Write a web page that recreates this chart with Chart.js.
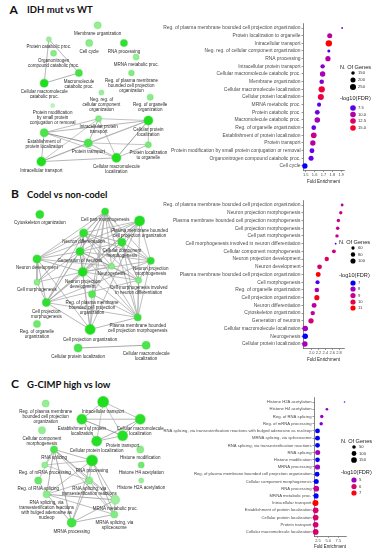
<!DOCTYPE html>
<html><head><meta charset="utf-8">
<script src="https://cdn.jsdelivr.net/npm/chart.js"></script>
<style>
body{margin:0;width:377px;height:550px;background:#fff;position:relative;overflow:hidden}
canvas{position:absolute}
.t{position:absolute;font-family:Lato,"Open Sans",sans-serif;font-weight:bold;color:#111;white-space:nowrap;line-height:1}
</style></head><body>
<div class="t" style="left:9.5px;top:3.5px;font-size:12px">A</div>
<div class="t" style="left:27px;top:5px;font-size:9.5px">IDH mut vs WT</div>
<div class="t" style="left:11px;top:188px;font-size:12px">B</div>
<div class="t" style="left:27px;top:189.5px;font-size:9.5px">Codel vs non-codel</div>
<div class="t" style="left:11px;top:378px;font-size:12px">C</div>
<div class="t" style="left:27px;top:379.5px;font-size:9.5px">G-CIMP high vs low</div>
<canvas id="netA"></canvas><canvas id="dotA"></canvas>
<canvas id="netB"></canvas><canvas id="dotB"></canvas>
<canvas id="netC"></canvas><canvas id="dotC"></canvas>
<script>
// ================= DATA: dot plots =================
const labelsA = ["Reg. of plasma membrane bounded cell projection organization","Protein localization to organelle","Intracellular transport","Neg. reg. of cellular component organization","RNA processing","Intracellular protein transport","Cellular macromolecule catabolic proc.","Membrane organization","Cellular macromolecule localization","Cellular protein localization","MRNA metabolic proc.","Protein catabolic proc.","Macromolecule catabolic proc.","Reg. of organelle organization","Establishment of protein localization","Protein transport","Protein modification by small protein conjugation or removal","Organonitrogen compound catabolic proc.","Cell cycle"];
const foldA  = [1.91,1.77,1.76,1.76,1.75,1.69,1.69,1.68,1.68,1.67,1.65,1.63,1.63,1.59,1.59,1.58,1.57,1.56,1.49];
const fdrA   = [8.2,10.6,16.0,7.2,10.3,8.6,9.6,8.4,14.5,14.0,7.4,7.8,9.4,7.6,11.2,10.2,7.8,7.6,6.8];
const genesA = [130,200,270,140,205,175,215,180,265,250,165,190,225,185,230,215,195,200,210];
const xTicksA = [1.5,1.6,1.7,1.8,1.9];
const sizeLegA = ["150","200","250"];
const fdrLegA = ["7.5","10.0","12.5","15.0"];

const labelsB = ["Reg. of plasma membrane bounded cell projection organization","Neuron projection morphogenesis","Plasma membrane bounded cell projection morphogenesis","Cell projection morphogenesis","Cell part morphogenesis","Cell morphogenesis involved in neuron differentiation","Cellular component morphogenesis","Neuron projection development","Neuron development","Plasma membrane bounded cell projection organization","Cell morphogenesis","Reg. of organelle organization","Cell projection organization","Neuron differentiation","Cytoskeleton organization","Generation of neurons","Cellular macromolecule localization","Neurogenesis","Cellular protein localization"];
const foldB  = [2.89,2.85,2.78,2.76,2.74,2.70,2.65,2.44,2.23,2.19,2.17,2.15,2.15,2.07,2.03,1.98,1.81,1.81,1.80];
const fdrB   = [8.8,9.0,9.0,9.0,9.0,7.1,9.1,9.8,9.3,11.0,7.2,8.3,10.8,8.5,8.8,9.3,8.2,7.0,8.2];
const genesB = [55,60,62,64,62,50,70,80,90,95,75,85,100,95,80,105,115,112,110];
const xTicksB = [2.0,2.2,2.4,2.6,2.8];
const sizeLegB = ["60","80","100"];
const fdrLegB = ["7","8","9","10","11"];

const labelsC = ["Histone H2A acetylation","Histone H4 acetylation","Reg. of RNA splicing","Reg. of mRNA processing","RNA splicing, via transesterification reactions with bulged adenosine as nucleop","MRNA splicing, via spliceosome","RNA splicing, via transesterification reactions","RNA splicing","Histone modification","MRNA processing","Reg. of plasma membrane bounded cell projection organization","Cellular component morphogenesis","RNA processing","MRNA metabolic proc.","Intracellular transport","Establishment of protein localization","Cellular protein localization","Protein transport","Cellular macromolecule localization"];
const foldC  = [9.0,4.7,3.45,3.3,2.4,2.4,2.4,2.45,2.4,2.4,2.3,2.1,2.1,2.05,1.9,1.95,1.95,1.95,1.95];
const fdrC   = [4.6,5.0,5.0,4.7,4.3,4.3,4.3,5.1,4.3,5.0,4.3,4.3,5.6,4.3,7.1,6.1,6.1,6.0,6.0];
const genesC = [20,30,45,45,100,105,100,110,95,120,100,110,150,115,170,150,150,145,155];
const xTicksC = [2.5,5.0,7.5];
const sizeLegC = ["50","100","150"];
const fdrLegC = ["5","6","7"];

// ================= DATA: enrichment networks (layout coordinates) =================
const netLabelsA = ["Membrane organization","Protein catabolic proc.","Cell cycle","RNA processing","Organonitrogen\ncompound catabolic proc.","MRNA metabolic proc.","Macromolecule\ncatabolic proc.","Reg. of plasma membrane\nbounded cell projection\norganization","Cellular macromolecule\ncatabolic proc.","Neg. reg. of\ncellular component\norganization","Reg. of organelle\norganization","Protein modification\nby small protein\nconjugation or removal","Intracellular protein\ntransport","Cellular protein\nlocalization","Establishment of\nprotein localization","Protein transport","Protein localization\nto organelle","Intracellular transport","Cellular macromolecule\nlocalization"];
const netXA = [98,46,89,126,51,139,78,134,41,102,154,50,99,152,41,88,152,38,118];
const netYA = [20,35,39,39,50,54,71,71,82,92,97,106,120,122,135,146,148,166,162];
const netSizeA = [3.5,2.5,3.5,3.5,3,3,3.5,2.8,4,2.5,3,2,3,4.5,4,4,3,4.5,4.5];
const netSigA = [0.35,0.3,0.4,0.9,0.4,0.35,0.8,0.45,1,0.3,0.4,0.1,0.45,1,0.75,0.75,0.5,1,1];
const netEdgesA = [[1,6,0.5],[1,8,0.5],[6,8,0.6],[14,13,0.5],[14,12,0.4],[14,15,1],[14,17,0.4],[14,18,0.35],[12,13,0.35],[12,15,0.5],[12,18,0.35],[12,17,0.3],[13,18,0.9],[13,15,0.4],[15,17,0.5],[15,18,0.5],[17,18,0.5],[16,18,0.4],[17,13,0.3],[16,15,0.3],[16,13,0.3]];

const netLabelsB = ["Cytoskeleton organization","Cell part morphogenesis","Plasma membrane bounded\ncell projection organization","Neuron differentiation","Cellular component\nmorphogenesis","Generation of neurons","Neuron development","Neuron projection\nmorphogenesis","Neurogenesis","Neuron projection\ndevelopment","Cell morphogenesis","Cell morphogenesis involved\nin neuron differentiation","Reg. of plasma membrane\nbounded cell projection\norganization","Cell projection\nmorphogenesis","Plasma membrane bounded\ncell projection morphogenesis","Reg. of organelle\norganization","Cell projection organization","Cellular macromolecule\nlocalization","Cellular protein localization"];
const netXB = [36,106,143,83,124,79,33,155,113,82,33,142,92,43,141,33,90,150,77];
const netYB = [209,206,216,229,239,249,257,259,265,271,282,280,295,304,320,327,333,350,353];
const netSizeB = [4,3.5,5,4,4,4,4,3.5,3,4.5,3,3,3.5,4,3.5,3.5,5,4,4];
const netSigB = [0.9,0.9,1,0.9,0.9,0.95,0.9,0.9,0.4,1,0.4,0.45,0.7,0.9,0.85,0.55,1,0.75,0.75];
const netEdgesB = [[1,3,0.4],[1,4,0.4],[1,5,0.4],[1,6,0.4],[1,7,0.4],[1,8,0.4],[1,9,0.4],[1,10,0.4],[1,11,0.4],[1,12,0.4],[1,13,0.4],[1,14,0.4],[1,16,0.4],
[2,3,0.4],[2,4,0.4],[2,5,0.4],[2,6,0.4],[2,7,0.4],[2,9,0.4],[2,12,0.4],[2,13,0.4],[2,14,0.4],[2,16,0.4],
[3,4,0.5],[3,5,0.6],[3,6,0.4],[3,7,0.4],[3,8,0.4],[3,9,0.5],[3,10,0.4],[3,11,0.4],[3,13,0.4],[3,14,0.4],
[4,5,0.4],[4,7,0.5],[4,9,0.4],[4,11,0.4],[4,13,0.4],[4,14,0.4],
[5,6,0.5],[5,7,0.4],[5,8,0.6],[5,9,0.6],[5,10,0.4],[5,11,0.4],[5,13,0.4],[5,14,0.4],[5,16,0.4],
[6,9,0.5],[6,10,0.4],[6,13,0.5],[6,16,0.4],[6,8,0.4],
[7,9,0.4],[7,11,0.4],[7,13,0.4],[7,14,0.4],
[8,9,0.4],[8,11,0.4],
[9,10,0.4],[9,11,0.4],[9,13,0.5],[9,14,0.4],[9,16,0.4],
[10,13,0.4],[11,14,0.4],[11,13,0.4],[12,16,0.4],[12,14,0.4],[13,14,0.4],[13,16,0.5],[14,16,0.5],[17,18,0.7]];

const netLabelsC = ["Reg. of plasma membrane\nbounded cell projection\norganization","Intracellular transport","Establishment of protein\nlocalization","Cellular macromolecule\nlocalization","Cellular component\nmorphogenesis","Protein transport","Cellular protein localization","RNA splicing","Histone modification","RNA processing","Reg. of mRNA processing","Histone H4 acetylation","Reg. of RNA splicing","RNA splicing, via\ntransesterification reactions","Histone H2A acetylation","RNA splicing, via\ntransesterification reactions\nwith bulged adenosine as\nnucleop","MRNA metabolic proc.","MRNA splicing, via\nspliceosome","MRNA processing"];
const netXC = [42,104,81,144,38,125,97,51,144,92,41,145,34,89,145,43,117,116,70];
const netYC = [398,396,415,415,427,433,439,448,448,460,465,465,482,482,482,497,503,519,528];
const netSizeC = [3.5,5.5,5,5,3.5,5,5,3.5,3.5,5.5,3,3,3.5,3.5,2.5,3.5,4.5,3.5,4.5];
const netSigC = [0.35,1,0.95,0.95,0.35,0.95,0.95,0.75,0.4,1,0.35,0.55,0.6,0.4,0.3,0.4,0.3,0.45,0.8];
const netEdgesC = [[1,2,0.4],[1,3,0.4],[1,5,0.3],[1,6,0.3],[2,3,0.5],[2,5,0.8],[2,6,0.5],[3,6,0.6],[3,5,0.5],[5,6,0.5],
[7,9,0.5],[7,13,0.4],[7,15,0.6],[7,16,0.5],[7,17,0.4],[7,18,0.7],[7,12,0.3],[7,10,0.3],[9,13,0.4],[9,15,0.4],[9,16,0.5],[9,17,0.5],[9,18,0.4],[13,15,0.4],[13,16,0.4],[13,17,0.4],[13,18,0.5],[15,16,0.7],[15,17,0.4],[15,18,0.6],[16,17,0.4],[16,18,0.5],[17,18,0.5],[10,13,0.3],[12,15,0.3],[10,9,0.3]];

// ================= helpers =================
const F = '"Liberation Sans", Arial, Helvetica, sans-serif';
function lin(c){c/=255;return c<=0.04045?c/12.92:Math.pow((c+0.055)/1.055,2.4);}
function gam(c){c=c<=0.0031308?12.92*c:1.055*Math.pow(Math.max(c,0),1/2.4)-0.055;return Math.round(Math.min(1,Math.max(0,c))*255);}
function rgb2lab(rgb){const [r,g,b]=rgb.map(lin);
 const X=(0.4124*r+0.3576*g+0.1805*b)/0.95047, Y=0.2126*r+0.7152*g+0.0722*b, Z=(0.0193*r+0.1192*g+0.9505*b)/1.08883;
 const f=t=>t>0.008856?Math.cbrt(t):7.787*t+16/116; const fx=f(X),fy=f(Y),fz=f(Z);
 return [116*fy-16,500*(fx-fy),200*(fy-fz)];}
function lab2rgb([L,a,bb]){const fy=(L+16)/116,fx=fy+a/500,fz=fy-bb/200;
 const fi=t=>t*t*t>0.008856?t*t*t:(t-16/116)/7.787;
 const X=fi(fx)*0.95047,Y=fi(fy),Z=fi(fz)*1.08883;
 return [3.2406*X-1.5372*Y-0.4986*Z,-0.9689*X+1.8758*Y+0.0415*Z,0.0557*X-0.2040*Y+1.0570*Z].map(gam);}
const LAB_LO=rgb2lab([0,0,255]), LAB_HI=rgb2lab([255,0,0]);
function fdrColor(v,lo,hi){let t=(v-lo)/(hi-lo);t=Math.max(0,Math.min(1,t));
 const [r,g,b]=lab2rgb(LAB_LO.map((c,i)=>c+(LAB_HI[i]-c)*t));return `rgb(${r},${g},${b})`;}
function greenColor(s){const p=[214,245,214],q=[30,222,30];return `rgb(${p.map((c,i)=>Math.round(c+(q[i]-c)*s)).join(',')})`;}

const LEG = {}, NET = {};

const legendPlugin = {id:'dotLegend', afterDraw(chart){
  const L = LEG[chart.canvas.id]; if(!L) return;
  const c = chart.ctx, ox=L.ox, oy=L.oy;
  c.save(); c.textBaseline='middle'; c.textAlign='left';
  c.fillStyle='#1a1a1a'; c.font=`${L.titleFs}px ${F}`;
  c.fillText('N. Of Genes', L.titleX-ox, L.sizeTitleY-oy);
  L.sizeLab.forEach((s,i)=>{
    c.fillStyle='#000'; c.beginPath(); c.arc(L.dotX-ox, L.sizeYs[i]-oy, L.rad(parseFloat(s)), 0, Math.PI*2); c.fill();
    c.fillStyle='#333'; c.font=`${L.itemFs}px ${F}`; c.fillText(s, L.textX-ox, L.sizeYs[i]-oy);
  });
  c.fillStyle='#1a1a1a'; c.font=`${L.titleFs}px ${F}`;
  c.fillText('-log10(FDR)', L.titleX-ox, L.colTitleY-oy);
  L.colLab.forEach((s,i)=>{
    c.fillStyle=L.col(parseFloat(s)); c.beginPath(); c.arc(L.dotX-ox, L.colYs[i]-oy, L.colR, 0, Math.PI*2); c.fill();
    c.fillStyle='#333'; c.font=`${L.itemFs}px ${F}`; c.fillText(s, L.textX-ox, L.colYs[i]-oy);
  });
  c.restore();
}};

const labelPlugin = {id:'netLabels', afterDatasetsDraw(chart){
  const N = NET[chart.canvas.id]; if(!N) return;
  const c = chart.ctx, xs=chart.scales.x, ys=chart.scales.y;
  c.save(); c.textAlign='center'; c.textBaseline='top'; c.fillStyle='#2b2b2b'; c.font=`${N.fs}px ${F}`;
  N.labels.forEach((lab,i)=>{
    const px=xs.getPixelForValue(N.x[i]), py=ys.getPixelForValue(N.y[i]);
    lab.split('\n').forEach((ln,k)=>c.fillText(ln, px, py+N.r[i]+2.6+k*5));
  });
  c.restore();
}};

function dotChart(id, geo, labels, fold, fdr, genes, xTicks, leg){
  const n = labels.length;
  const fLo=Math.min(...fdr), fHi=Math.max(...fdr);
  const gLo=Math.min(...genes), gHi=Math.max(...genes);
  const rad = g => geo.rMin + (geo.rMax-geo.rMin)*Math.sqrt(Math.max(0,Math.min(1,(g-gLo)/(gHi-gLo))));
  const xLo=Math.min(...fold), xHi=Math.max(...fold), pad=(xHi-xLo)*0.05;
  const cv=document.getElementById(id);
  cv.width=geo.w; cv.height=geo.h; cv.style.left=geo.left+'px'; cv.style.top=geo.top+'px';
  LEG[id] = Object.assign({ox:geo.left, oy:geo.top, rad, col:v=>fdrColor(v,fLo,fHi)}, leg);
  new Chart(cv,{type:'bubble',
    data:{datasets:[{data:fold.map((v,i)=>({x:v,y:i,r:rad(genes[i])})),
      backgroundColor:fdr.map(v=>fdrColor(v,fLo,fHi)), borderWidth:0, clip:false}]},
    options:{responsive:false, animation:false, devicePixelRatio:1, events:[],
      layout:{padding:{left:0,right:geo.padR,top:geo.padT,bottom:0}},
      plugins:{legend:{display:false}, tooltip:{enabled:false}},
      scales:{
        x:{type:'linear', min:xLo-pad, max:xHi+pad,
          afterBuildTicks:s=>{s.ticks=xTicks.map(v=>({value:v}));},
          afterFit:s=>{s.height=geo.xH;},
          grid:{display:true, drawOnChartArea:false, drawTicks:true, tickLength:1.5, color:'#333', lineWidth:0.5},
          border:{display:true, color:'#333', width:0.6},
          ticks:{font:{family:F,size:4},color:'#4d4d4d',padding:0.5,maxRotation:0,minRotation:0,autoSkip:false,callback:v=>Number(v).toFixed(1)},
          title:{display:true,text:'Fold Enrichment',font:{family:F,size:4.5},color:'#1a1a1a',padding:{top:0,bottom:geo.titlePadB}}},
        y:{type:'linear', reverse:true, min:-0.6, max:n-0.4,
          afterBuildTicks:s=>{s.ticks=labels.map((l,i)=>({value:i}));},
          afterFit:s=>{s.width=geo.yW;},
          grid:{display:true, drawOnChartArea:false, drawTicks:true, tickLength:1.5, color:'#333', lineWidth:0.5},
          border:{display:true, color:'#333', width:0.6},
          ticks:{font:{family:F,size:geo.labFs},color:'#4d4d4d',padding:1,autoSkip:false,callback:v=>labels[Math.round(v)]}}
      }},
    plugins:[legendPlugin]});
}

function netChart(id, geo, labels, xs, ys, sizes, sig, edges){
  const cv=document.getElementById(id);
  cv.width=geo.w; cv.height=geo.h; cv.style.left=geo.left+'px'; cv.style.top=geo.top+'px';
  NET[id] = {labels, x:xs, y:ys, r:sizes, fs:4.5};
  const nodes = {data:xs.map((x,i)=>({x, y:ys[i]})), pointRadius:sizes, pointBackgroundColor:sig.map(greenColor),
    pointBorderColor:sig.map(s=>`rgba(60,215,60,${0.15+0.3*s})`), pointBorderWidth:1.2, showLine:false};
  const edgeSets = edges.map(([a,b,w])=>{const g=Math.round(205-95*w);
    return {data:[{x:xs[a],y:ys[a]},{x:xs[b],y:ys[b]}], showLine:true, pointRadius:0, borderWidth:0.75,
      borderColor:`rgb(${g},${g},${g})`, fill:false};});
  new Chart(cv,{type:'scatter', data:{datasets:[nodes, ...edgeSets]},
    options:{responsive:false, animation:false, devicePixelRatio:1, events:[],
      layout:{padding:0},
      plugins:{legend:{display:false}, tooltip:{enabled:false}},
      scales:{x:{type:'linear',display:false,min:0,max:geo.w},
              y:{type:'linear',display:false,min:geo.top,max:geo.top+geo.h,reverse:true}}},
    plugins:[labelPlugin]});
}

// ================= build =================
netChart('netA',{left:0,top:15,w:185,h:170}, netLabelsA, netXA, netYA, netSizeA, netSigA, netEdgesA);
netChart('netB',{left:0,top:198,w:185,h:172}, netLabelsB, netXB, netYB, netSizeB, netSigB, netEdgesB);
netChart('netC',{left:0,top:385,w:185,h:160}, netLabelsC, netXC, netYC, netSizeC, netSigC, netEdgesC);

dotChart('dotA',{left:150,top:15,w:227,h:175,yW:153,padR:33,padT:8.4,xH:19.4,titlePadB:5.3,labFs:4.9,rMin:0.9,rMax:3.2},
  labelsA, foldA, fdrA, genesA, xTicksA,
  {titleX:340,dotX:353,textX:358,titleFs:5.6,itemFs:4.2,sizeTitleY:67,sizeLab:sizeLegA,sizeYs:[73,80,87],
   colTitleY:98,colLab:fdrLegA,colYs:[108,114.5,121,128],colR:2.8});
dotChart('dotB',{left:150,top:192,w:227,h:175,yW:153,padR:33,padT:8.4,xH:18.4,titlePadB:4.3,labFs:4.9,rMin:0.9,rMax:2.8},
  labelsB, foldB, fdrB, genesB, xTicksB,
  {titleX:339,dotX:353,textX:358,titleFs:5.6,itemFs:4.2,sizeTitleY:242,sizeLab:sizeLegB,sizeYs:[248,254.5,261],
   colTitleY:275,colLab:fdrLegB,colYs:[283,289,295.5,302,308],colR:2.6});
dotChart('dotC',{left:150,top:385,w:227,h:165,yW:164,padR:31,padT:12.7,xH:13.7,titlePadB:0.3,labFs:4.2,rMin:0.8,rMax:3.0},
  labelsC, foldC, fdrC, genesC, xTicksC,
  {titleX:341,dotX:354,textX:359,titleFs:5.6,itemFs:4.2,sizeTitleY:441,sizeLab:sizeLegC,sizeYs:[447,453.5,460],
   colTitleY:472,colLab:fdrLegC,colYs:[480,486.5,493],colR:2.6});
</script>
</body></html>
